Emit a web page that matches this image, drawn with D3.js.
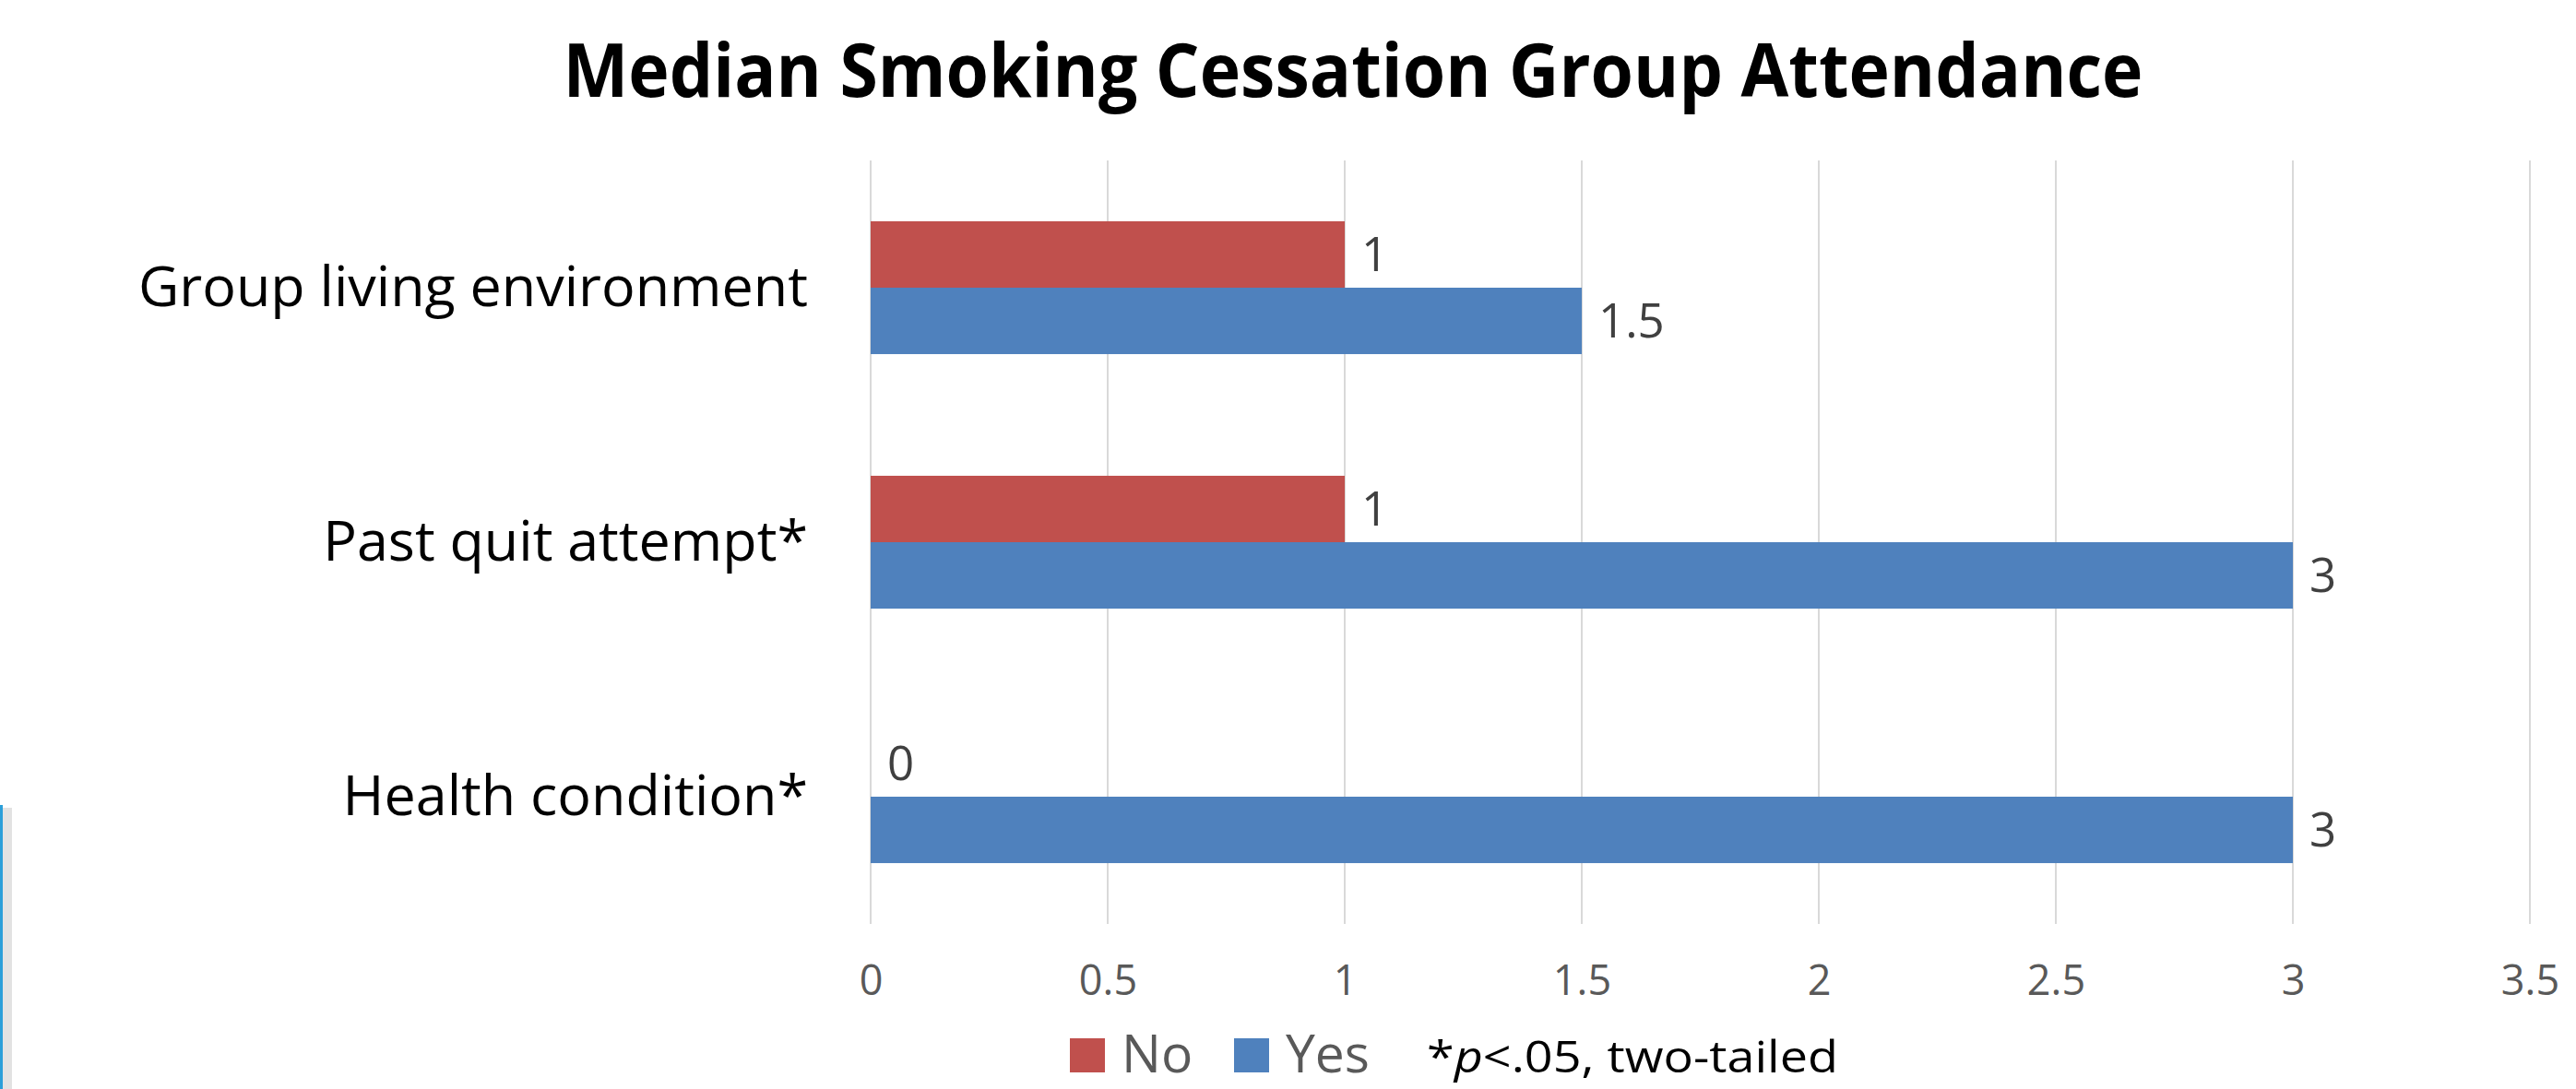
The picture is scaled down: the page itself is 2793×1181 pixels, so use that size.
<!DOCTYPE html>
<html>
<head>
<meta charset="utf-8">
<script src="https://cdn.jsdelivr.net/npm/d3@7"></script>
<style>
  body { margin: 0; background: #fff; }
  svg { display: block; }
</style>
</head>
<body>
<div id="chart"></div>
<script>
// chart values
const categories = ["Group living environment", "Past quit attempt*", "Health condition*"];
const seriesNames = ["No", "Yes"];
const noValues = [1, 1, 0];
const yesValues = [1.5, 3, 3];
const xTicks = [0, 0.5, 1, 1.5, 2, 2.5, 3, 3.5];

const colors = { No: "#C0504D", Yes: "#4F81BD" };

const width = 2793, height = 1181;
const plot = { left: 944, right: 2743, top: 174, bottom: 1002 };

const svg = d3.select("#chart").append("svg")
    .attr("width", width)
    .attr("height", height);

// little frame edge at bottom left (part of a neighbouring slide object)
svg.append("rect")
    .attr("x", 3).attr("y", 876).attr("width", 10).attr("height", 310)
    .attr("fill", "#cfcfcf").attr("opacity", 0.6);
svg.append("rect")
    .attr("x", 0).attr("y", 873).attr("width", 3).attr("height", 310)
    .attr("fill", "#2b9fd9");

const x = d3.scaleLinear().domain([0, 3.5]).range([plot.left, plot.right]);
const y = d3.scaleBand().domain(categories)
    .range([plot.top, plot.bottom])
    .paddingInner(0.478).paddingOuter(0.239);
const ySub = d3.scaleBand().domain(seriesNames).range([0, y.bandwidth()]);

// gridlines
svg.append("g")
    .selectAll("line")
    .data(xTicks)
    .join("line")
    .attr("x1", d => x(d)).attr("x2", d => x(d))
    .attr("y1", plot.top).attr("y2", plot.bottom)
    .attr("stroke", "#d9d9d9")
    .attr("stroke-width", 2);

// x axis tick labels
const xAxis = d3.axisBottom(x).tickValues(xTicks).tickSize(0).tickFormat(d3.format("~g"));
const gx = svg.append("g")
    .attr("transform", `translate(0,${plot.bottom})`)
    .call(xAxis);
gx.select(".domain").remove();
gx.selectAll("text")
    .attr("dy", 0)
    .attr("y", 77)
    .attr("fill", "#595959")
    .style("font-family", "'Open Sans', sans-serif")
    .style("font-size", "45px");

// bars
const rows = categories.map((c, i) => ({ cat: c, No: noValues[i], Yes: yesValues[i] }));

const groups = svg.append("g").selectAll("g")
    .data(rows)
    .join("g")
    .attr("transform", d => `translate(0,${y(d.cat)})`);

groups.selectAll("rect")
    .data(d => seriesNames.map(s => ({ s, v: d[s] })))
    .join("rect")
    .attr("x", x(0))
    .attr("y", d => ySub(d.s))
    .attr("width", d => x(d.v) - x(0))
    .attr("height", ySub.bandwidth())
    .attr("fill", d => colors[d.s]);

groups.selectAll("text.val")
    .data(d => seriesNames.map(s => ({ s, v: d[s] })))
    .join("text")
    .attr("class", "val")
    .attr("x", d => x(d.v) + 18)
    .attr("y", d => ySub(d.s) + ySub.bandwidth() / 2 + 18)
    .attr("fill", "#404040")
    .style("font-family", "'Open Sans', sans-serif")
    .style("font-size", "51px")
    .text(d => d3.format("~g")(d.v));

// category labels
svg.append("g").selectAll("text")
    .data(categories)
    .join("text")
    .attr("x", 876)
    .attr("y", d => y(d) + y.bandwidth() / 2 + 20)
    .attr("text-anchor", "end")
    .attr("fill", "#000")
    .style("font-family", "'Open Sans', sans-serif")
    .style("font-size", "61px")
    .text(d => d);

// title
svg.append("text")
    .attr("x", 1467)
    .attr("y", 105)
    .attr("text-anchor", "middle")
    .attr("fill", "#000")
    .attr("textLength", 1713)
    .attr("lengthAdjust", "spacingAndGlyphs")
    .style("font-family", "'Open Sans', sans-serif")
    .style("font-weight", "bold")
    .style("font-size", "80px")
    .text("Median Smoking Cessation Group Attendance");

// legend
const legendX = [1160, 1338];
const legend = svg.append("g").selectAll("g")
    .data(seriesNames)
    .join("g")
    .attr("transform", (d, i) => `translate(${legendX[i]},1126)`);
legend.append("rect")
    .attr("width", 38).attr("height", 37)
    .attr("fill", d => colors[d]);
legend.append("text")
    .attr("x", 56).attr("y", 37)
    .attr("fill", "#595959")
    .style("font-family", "'Open Sans', sans-serif")
    .style("font-size", "57px")
    .text(d => d);

// significance note
const note = svg.append("text")
    .attr("x", 1547).attr("y", 1163)
    .attr("fill", "#000")
    .attr("textLength", 446)
    .attr("lengthAdjust", "spacingAndGlyphs")
    .style("font-family", "'Open Sans', sans-serif")
    .style("font-size", "48px");
note.append("tspan").text("*");
note.append("tspan").style("font-style", "italic").text("p");
note.append("tspan").text("<.05, two-tailed");
</script>
</body>
</html>
